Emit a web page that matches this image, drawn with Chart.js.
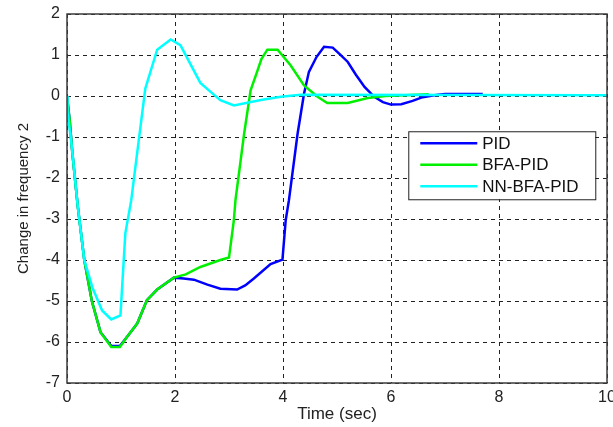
<!DOCTYPE html>
<html>
<head>
<meta charset="utf-8">
<script src="https://cdn.jsdelivr.net/npm/chart.js@4.4.1/dist/chart.umd.min.js"></script>
<style>
  html, body { margin: 0; padding: 0; background: #fff; }
  #wrap { width: 613px; height: 427px; }
</style>
</head>
<body>
<div id="wrap"><canvas id="freqChart" width="613" height="427"></canvas></div>
<script>
// tick values
const xTicks = [0, 2, 4, 6, 8, 10];
const yTicks = [-7, -6, -5, -4, -3, -2, -1, 0, 1, 2];

// PID
const pidT = [0, 0.05, 0.1, 0.2, 0.32, 0.46, 0.62, 0.82, 0.98, 1.11, 1.3, 1.48, 1.67, 1.98, 2.16, 2.35, 2.6, 2.84, 3.15, 3.3, 3.46, 3.77, 3.99, 4.05, 4.11, 4.27, 4.39, 4.48, 4.62, 4.76, 4.92, 5.05, 5.2, 5.35, 5.51, 5.69, 5.85, 6.0, 6.19, 6.4, 6.56, 6.8, 7.0, 7.7];
const pidY = [0, -0.6, -1.4, -2.7, -4.0, -5.0, -5.76, -6.1, -6.1, -5.88, -5.55, -4.98, -4.72, -4.43, -4.45, -4.48, -4.6, -4.7, -4.72, -4.62, -4.45, -4.1, -3.99, -3.03, -2.54, -0.92, 0.06, 0.59, 0.95, 1.2, 1.18, 1.02, 0.83, 0.52, 0.22, -0.02, -0.15, -0.21, -0.2, -0.12, -0.04, 0.02, 0.05, 0.05];

// BFA-PID
const bfaT = [0, 0.05, 0.1, 0.2, 0.32, 0.46, 0.62, 0.82, 0.98, 1.11, 1.3, 1.48, 1.67, 1.98, 2.2, 2.47, 2.84, 3.0, 3.09, 3.12, 3.28, 3.4, 3.51, 3.6, 3.71, 3.9, 4.14, 4.39, 4.64, 4.82, 5.2, 5.57, 5.9, 6.7];
const bfaY = [0, -0.6, -1.4, -2.7, -4.0, -5.0, -5.76, -6.12, -6.12, -5.88, -5.55, -4.98, -4.72, -4.43, -4.35, -4.17, -4.0, -3.94, -3.03, -2.54, -0.92, 0.14, 0.55, 0.9, 1.13, 1.13, 0.75, 0.26, -0.02, -0.17, -0.17, -0.05, 0.0, 0.04];

// NN-BFA-PID
const nnT = [0, 0.01, 0.09, 0.2, 0.32, 0.47, 0.65, 0.82, 0.99, 1.08, 1.19, 1.24, 1.45, 1.67, 1.92, 2.1, 2.47, 2.66, 2.84, 3.09, 3.59, 3.96, 4.33, 10];
const nnY = [0, -0.4, -1.24, -2.7, -4.0, -4.67, -5.23, -5.45, -5.35, -3.35, -2.54, -2.01, 0.18, 1.13, 1.38, 1.24, 0.32, 0.1, -0.1, -0.23, -0.1, -0.02, 0.03, 0.02];

const seriesNames = ["PID", "BFA-PID", "NN-BFA-PID"];
const seriesColors = ["#0000ff", "#00f000", "#00ffff"];
const FONT = "Arial, 'Liberation Sans', sans-serif";

function toPoints(ts, ys) {
  return ts.map((t, i) => ({ x: t, y: ys[i] }));
}

// MATLAB style box + legend in the upper right
const boxLegend = {
  id: "boxLegend",
  afterDatasetsDraw(chart) {
    const { ctx, chartArea: a } = chart;
    ctx.save();
    ctx.strokeStyle = "#3c3c3c";
    ctx.lineWidth = 1.5;
    ctx.strokeRect(a.left, a.top, a.right - a.left, a.bottom - a.top);

    const xs = chart.scales.x, ys = chart.scales.y;
    const bx = xs.getPixelForValue(6.32), by = ys.getPixelForValue(-0.86);
    const bw = 187, bh = 68;
    ctx.fillStyle = "#fff";
    ctx.fillRect(bx, by, bw, bh);
    ctx.strokeStyle = "#222";
    ctx.lineWidth = 1;
    ctx.strokeRect(bx + 0.5, by + 0.5, bw, bh);
    ctx.font = "17px " + FONT;
    ctx.textBaseline = "middle";
    seriesNames.forEach((name, i) => {
      const y = by + 12 + i * 21.5;
      ctx.strokeStyle = seriesColors[i];
      ctx.lineWidth = 2.5;
      ctx.beginPath();
      ctx.moveTo(bx + 12, y);
      ctx.lineTo(bx + 69, y);
      ctx.stroke();
      ctx.fillStyle = "#111";
      ctx.fillText(name, bx + 74, y + 1);
    });
    ctx.restore();
  }
};

const ctx = document.getElementById("freqChart").getContext("2d");
new Chart(ctx, {
  type: "line",
  data: {
    datasets: [
      { label: seriesNames[0], data: toPoints(pidT, pidY) },
      { label: seriesNames[1], data: toPoints(bfaT, bfaY) },
      { label: seriesNames[2], data: toPoints(nnT, nnY) }
    ].map((d, i) => Object.assign(d, {
      borderColor: seriesColors[i],
      backgroundColor: seriesColors[i],
      borderWidth: 2.5,
      pointRadius: 0,
      tension: 0,
      fill: false,
      order: 3 - i
    }))
  },
  options: {
    responsive: false,
    animation: false,
    layout: { padding: { top: 14, right: 6, left: 0, bottom: 0 } },
    plugins: { legend: { display: false }, tooltip: { enabled: false } },
    scales: {
      x: {
        type: "linear",
        min: 0, max: 10,
        afterBuildTicks: s => { s.ticks = xTicks.map(v => ({ value: v })); },
        afterFit: s => { s.height = 44; s.paddingLeft = 0; s.paddingRight = 0; },
        ticks: { color: "#222", font: { family: FONT, size: 16 }, padding: 5, maxRotation: 0 },
        grid: { color: "#222", lineWidth: 1, drawTicks: false, borderDash: [4, 4] },
        border: { display: false, dash: [4, 4] },
        title: { display: true, text: "Time (sec)", color: "#222", font: { family: FONT, size: 17 }, padding: { top: 0, bottom: 2 } }
      },
      y: {
        type: "linear",
        min: -7, max: 2,
        afterBuildTicks: s => { s.ticks = yTicks.map(v => ({ value: v })); },
        afterFit: s => { s.width = 67; s.paddingTop = 0; s.paddingBottom = 0; },
        ticks: { color: "#222", font: { family: FONT, size: 16 }, padding: 7 },
        grid: { color: "#222", lineWidth: 1, drawTicks: false, borderDash: [4, 4] },
        border: { display: false, dash: [4, 4] },
        title: { display: true, text: "Change in frequency 2", color: "#222", font: { family: FONT, size: 15 }, padding: { top: 15, bottom: 0 } }
      }
    }
  },
  plugins: [boxLegend]
});
</script>
</body>
</html>
